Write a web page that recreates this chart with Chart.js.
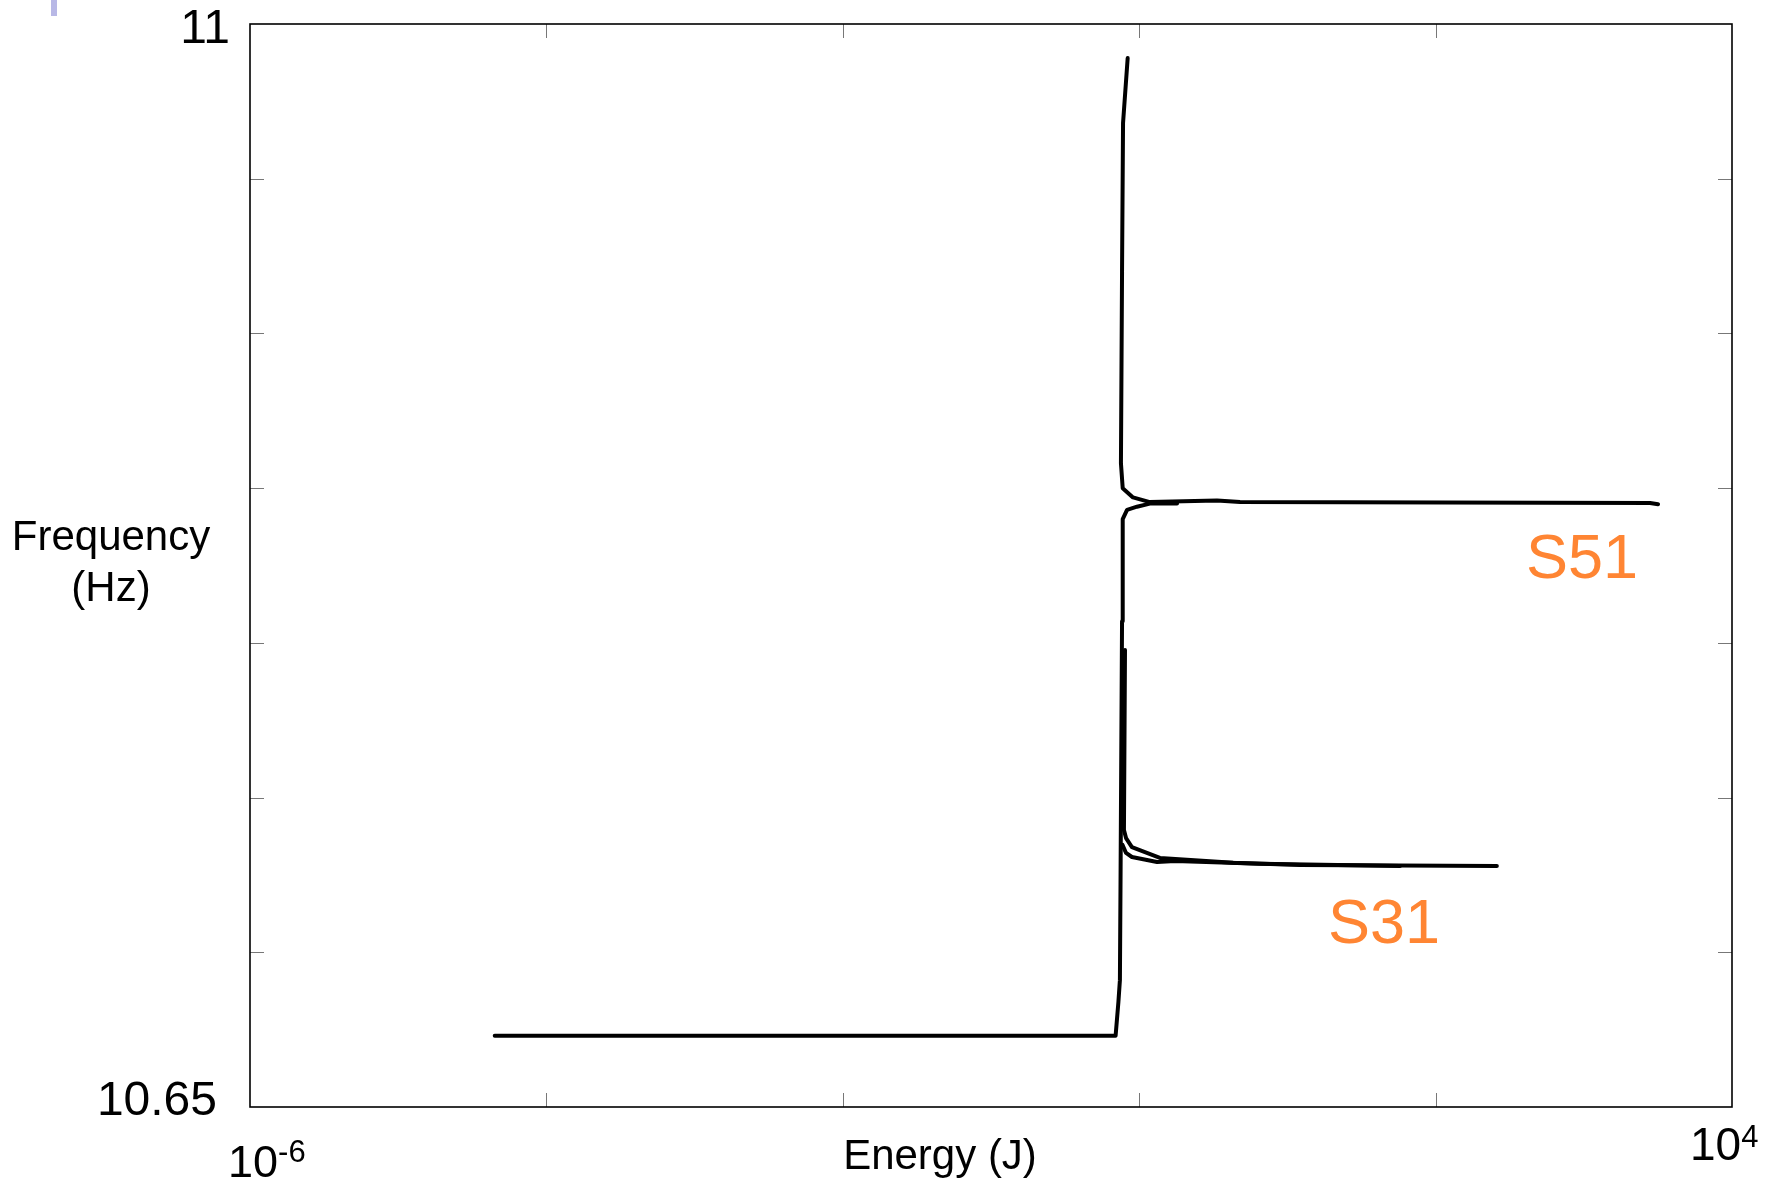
<!DOCTYPE html>
<html>
<head>
<meta charset="utf-8">
<title>Frequency vs Energy</title>
<script src="https://cdn.jsdelivr.net/npm/chart.js@4.4.1/dist/chart.umd.min.js"></script>
<style>
  html, body { margin: 0; padding: 0; background: #fff; }
</style>
</head>
<body>
<canvas id="freqChart" width="1775" height="1184"></canvas>
<script>
// curve coming up from the low plateau and joining S51
var lowerEnergy = [4.48e-5, 0.693, 0.724, 0.741, 0.748, 0.766, 0.774, 0.828, 0.966, 1.18, 1.80];
var lowerFreq   = [10.673, 10.673, 10.684, 10.691, 10.722, 10.807, 10.840, 10.843, 10.844, 10.845, 10.845];

// curve coming down from the top, running out to S51
var upperEnergy = [0.836, 0.778, 0.766, 0.753, 0.774, 0.908, 1.18, 3.35, 4.79, 2800, 3170];
var upperFreq   = [10.989, 10.968, 10.920, 10.858, 10.850, 10.847, 10.8455, 10.846, 10.8455, 10.8452, 10.8448];

// S31 branches
var s31aEnergy = [0.802, 0.789, 0.815, 0.893, 1.38, 4.30, 12.2, 259];
var s31aFreq   = [10.7977, 10.7395, 10.7369, 10.7340, 10.7305, 10.7289, 10.7282, 10.7279];
var s31bEnergy = [0.771, 0.815, 0.893, 1.32, 1.75, 6.53, 57.5];
var s31bFreq   = [10.7347, 10.7321, 10.7308, 10.7292, 10.7295, 10.7286, 10.7279];

// axes
var xMin = 1e-6, xMax = 1e4;
var yMin = 10.65, yMax = 11;
var xTickValues = [1e-4, 1e-2, 1, 1e2];
var yTickValues = [10.70, 10.75, 10.80, 10.85, 10.90, 10.95];
var yTickLabels = ['10.65', '11'];

var FONT = '"Liberation Sans", Arial, sans-serif';
var ORANGE = '#FF8533';

function toPoints(xs, ys) {
    var pts = [];
    for (var i = 0; i < xs.length; i++) pts.push({ x: xs[i], y: ys[i] });
    return pts;
}

function lineSet(xs, ys) {
    return {
        data: toPoints(xs, ys),
        borderColor: '#000',
        borderWidth: 4,
        pointRadius: 0,
        tension: 0,
        fill: false,
        borderCapStyle: 'round',
        borderJoinStyle: 'round'
    };
}

// base-10 power label: "10" with a raised exponent
function drawPow(ctx, exp, x, baseline, size, supSize, supBaseline) {
    ctx.textAlign = 'left';
    ctx.textBaseline = 'alphabetic';
    ctx.font = size + 'px ' + FONT;
    ctx.fillText('10', x, baseline);
    var w = ctx.measureText('10').width;
    ctx.font = supSize + 'px ' + FONT;
    ctx.fillText(exp, x + w, supBaseline);
}

var framePlugin = {
    id: 'frame',
    afterDraw: function (chart) {
        var ctx = chart.ctx;
        var a = chart.chartArea;
        var sx = chart.scales.x, sy = chart.scales.y;
        ctx.save();

        // inward tick marks
        ctx.strokeStyle = '#777';
        ctx.lineWidth = 1;
        ctx.beginPath();
        xTickValues.forEach(function (v) {
            var px = Math.round(sx.getPixelForValue(v)) + 0.5;
            ctx.moveTo(px, a.top); ctx.lineTo(px, a.top + 14);
            ctx.moveTo(px, a.bottom); ctx.lineTo(px, a.bottom - 14);
        });
        yTickValues.forEach(function (v) {
            var py = Math.round(sy.getPixelForValue(v)) + 0.5;
            ctx.moveTo(a.left, py); ctx.lineTo(a.left + 14, py);
            ctx.moveTo(a.right, py); ctx.lineTo(a.right - 14, py);
        });
        ctx.stroke();

        // frame
        ctx.strokeStyle = '#000';
        ctx.lineWidth = 1.6;
        ctx.strokeRect(a.left, a.top, a.right - a.left, a.bottom - a.top);

        ctx.fillStyle = '#000';
        // y tick labels
        ctx.font = '48px ' + FONT;
        ctx.textAlign = 'right';
        ctx.textBaseline = 'alphabetic';
        ctx.fillText(yTickLabels[1], 230, sy.getPixelForValue(yMax) + 19);
        ctx.fillText(yTickLabels[0], 217, sy.getPixelForValue(yMin) + 8);

        // x tick labels
        var x0 = sx.getPixelForValue(xMin), x1 = sx.getPixelForValue(xMax);
        drawPow(ctx, '-6', x0 - 22, 1177, 45, 31, 1162);
        drawPow(ctx, '4', x1 - 42, 1160, 46, 31, 1147);

        // axis titles
        ctx.font = '42px ' + FONT;
        ctx.textAlign = 'center';
        ctx.textBaseline = 'middle';
        ctx.fillText('Energy (J)', 940, 1157);
        ctx.fillText('Frequency', 111, 538);
        ctx.fillText('(Hz)', 111, 589);

        // branch labels
        ctx.fillStyle = ORANGE;
        ctx.font = '63px ' + FONT;
        ctx.textAlign = 'left';
        ctx.textBaseline = 'alphabetic';
        ctx.fillText('S51', 1526, 578);
        ctx.fillText('S31', 1328, 943);

        // small mark at the top-left corner
        ctx.fillStyle = '#B8B8E6';
        ctx.fillRect(51, 0, 6, 16);

        ctx.restore();
    }
};

var ctx = document.getElementById('freqChart').getContext('2d');
new Chart(ctx, {
    type: 'line',
    data: {
        datasets: [
            lineSet(lowerEnergy, lowerFreq),
            lineSet(upperEnergy, upperFreq),
            lineSet(s31aEnergy, s31aFreq),
            lineSet(s31bEnergy, s31bFreq)
        ]
    },
    options: {
        responsive: false,
        animation: false,
        layout: { padding: { left: 250, right: 43, top: 24, bottom: 77 } },
        plugins: {
            legend: { display: false },
            tooltip: { enabled: false }
        },
        scales: {
            x: { type: 'logarithmic', min: xMin, max: xMax, display: false },
            y: { type: 'linear', min: yMin, max: yMax, display: false }
        }
    },
    plugins: [framePlugin]
});
</script>
</body>
</html>
